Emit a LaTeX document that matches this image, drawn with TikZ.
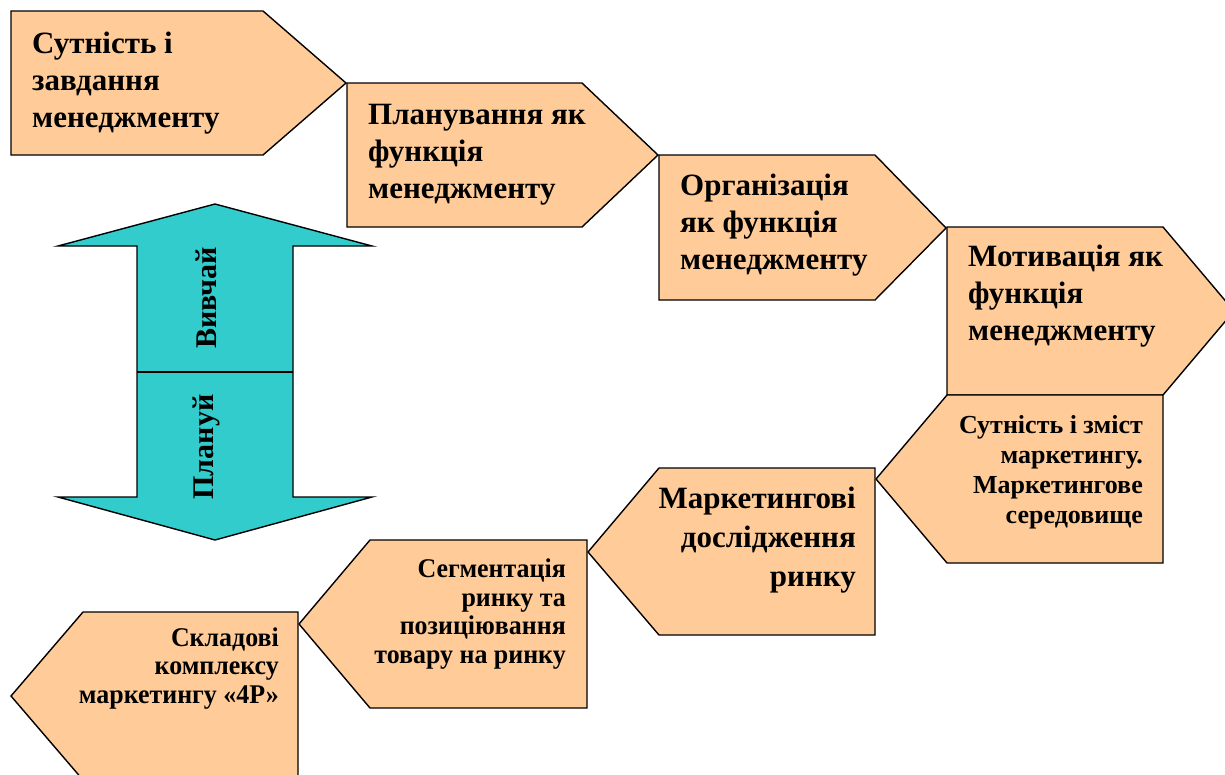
\documentclass[tikz,border=0pt]{standalone}
\usepackage{fontspec}
\setmainfont{Liberation Serif}[BoldFont={Liberation Serif Bold}]
\newfontfamily\narrowfont{Liberation Serif}[FakeStretch=0.96,BoldFont={Liberation Serif Bold}]
\definecolor{peach}{RGB}{255,204,153}
\definecolor{teal}{RGB}{51,204,204}
\begin{document}
\begin{tikzpicture}[x=1pt,y=-1pt,
  shapebox/.style={draw=black, line width=1.4pt, fill=peach, line join=miter},
  bigtxt/.style={font=\rmfamily\bfseries\fontsize{31}{37}\selectfont, inner sep=0pt, align=left, anchor=base west},
  bigr/.style={font=\rmfamily\bfseries\fontsize{31}{39}\selectfont, inner sep=0pt, align=right, anchor=base east},
  smalltxt/.style={font=\rmfamily\bfseries\fontsize{26}{30}\selectfont, inner sep=0pt, align=right, anchor=base east},
  midtxt/.style={font=\narrowfont\bfseries\fontsize{27}{28.5}\selectfont, inner sep=0pt, align=right, anchor=base east},
  rottxt/.style={font=\rmfamily\bfseries\fontsize{30}{36}\selectfont, inner sep=0pt, rotate=90}]
\path[use as bounding box] (0,0) rectangle (1225,774);
\clip (0,0) rectangle (1225,774);
% box 1
\draw[shapebox] (11,11) -- (263,11) -- (346,83) -- (263,155) -- (11,155) -- cycle;
\node[bigtxt] (t1) at (32,127) {Сутність і\\завдання\\менеджменту};
% box 2
\draw[shapebox] (347,83) -- (582,83) -- (658,155) -- (582,227) -- (347,227) -- cycle;
\node[bigtxt] (t2) at (368,198) {Планування як\\функція\\менеджменту};
% box 3
\draw[shapebox] (659,155) -- (875,155) -- (946,228) -- (875,300) -- (659,300) -- cycle;
\node[bigtxt] (t3) at (680,269) {Організація\\як функція\\менеджменту};
% box 4
\draw[shapebox] (947,227) -- (1163,227) -- (1234,311) -- (1163,395) -- (947,395) -- cycle;
\node[bigtxt] (t4) at (968,340) {Мотивація як\\функція\\менеджменту};
% box 5
\draw[shapebox] (1163,395) -- (947,395) -- (876,479) -- (947,563) -- (1163,563) -- cycle;
\node[smalltxt] (t5) at (1143,523) {Сутність і зміст\\маркетингу.\\Маркетингове\\середовище};
% box 6
\draw[shapebox] (875,468) -- (659,468) -- (588,552) -- (659,635) -- (875,635) -- cycle;
\node[bigr] (t6) at (856,586) {Маркетингові\\дослідження\\ринку};
% box 7
\draw[shapebox] (587,540) -- (370,540) -- (299,624) -- (370,708) -- (587,708) -- cycle;
\node[midtxt] (t7) at (566,663) {Сегментація\\ринку та\\позиціювання\\товару на ринку};
% box 8
\draw[shapebox] (298,612) -- (83,612) -- (11,696) -- (83,780) -- (298,780) -- cycle;
\node[midtxt] (t8) at (279,703) {Складові\\комплексу\\маркетингу «4Р»};
% double arrow
\draw[draw=black, line width=1.4pt, fill=teal, line join=miter]
  (215,204) -- (372,246) -- (293,246) -- (293,497) -- (372,497) -- (215,540)
  -- (58,497) -- (137,497) -- (137,246) -- (58,246) -- cycle;
\draw[line width=1.4pt] (137,372) -- (293,372);
\node[rottxt] (v) at (206,298) {Вивчай};
\node[rottxt] (p) at (206,447) {Плануй};
\end{tikzpicture}
\end{document}
